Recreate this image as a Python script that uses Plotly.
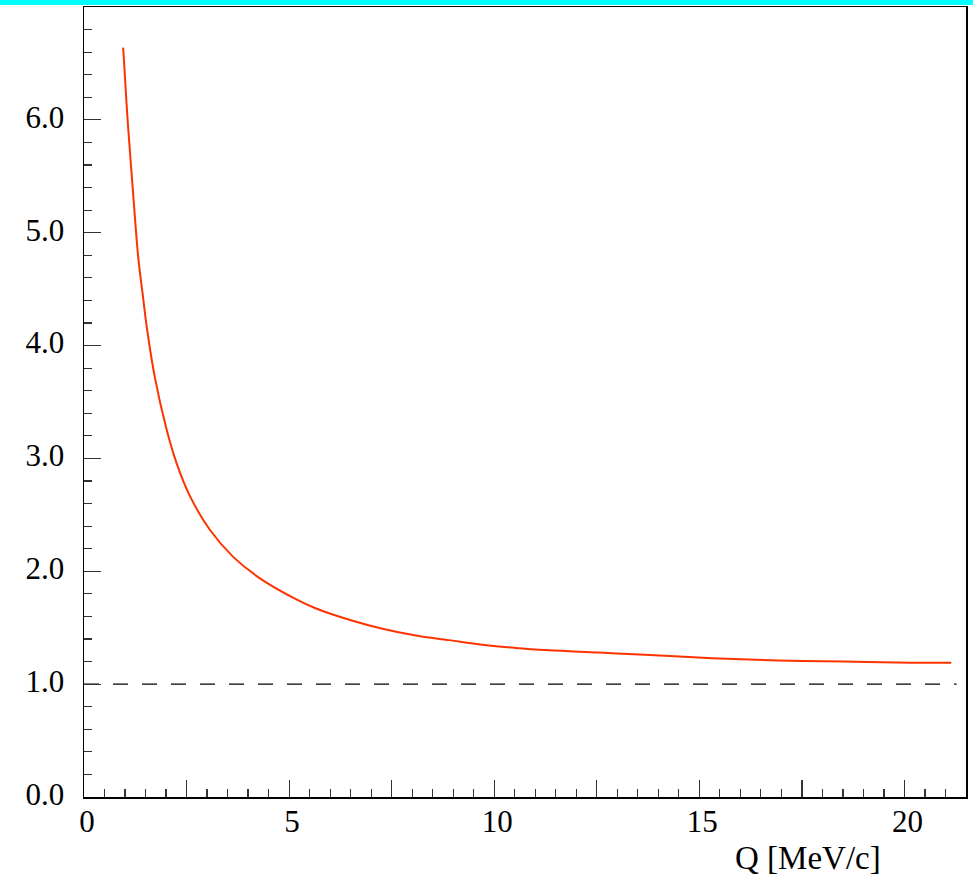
import plotly.graph_objects as go

# Enhancement factor versus momentum Q [MeV/c]
q_values = [0.955, 1.038, 1.077, 1.199, 1.320, 1.442, 1.524, 1.726, 2.011, 2.254,
            2.577, 3.063, 3.630, 4.279, 5.130, 5.658, 6.467, 7.277, 8.089, 8.899,
            9.708, 10.52, 11.33, 12.55, 13.68, 15.30, 16.92, 18.54, 20.16, 21.14]
factor_values = [6.64, 6.14, 5.93, 5.34, 4.79, 4.42, 4.18, 3.72, 3.26, 2.96,
                 2.67, 2.37, 2.13, 1.94, 1.76, 1.67, 1.57, 1.49, 1.43, 1.39,
                 1.35, 1.32, 1.30, 1.28, 1.26, 1.23, 1.21, 1.20, 1.19, 1.19]

# Reference level
ref_q = [0.0, 21.27]
ref_level = [1.0, 1.0]

x_tickvals = [0, 2.5, 5, 7.5, 10, 12.5, 15, 17.5, 20]
x_ticktext = ["0", "", "5", "", "10", "", "15", "", "20"]
y_tickvals = [0, 1, 2, 3, 4, 5, 6]
y_ticktext = ["0.0", "1.0", "2.0", "3.0", "4.0", "5.0", "6.0"]

W, H = 973, 877
L, R, T, B = 84, 5, 7, 80

fig = go.Figure()
fig.add_trace(go.Scatter(x=ref_q, y=ref_level, mode="lines",
                         line=dict(color="black", width=1.2, dash="15px,14px"),
                         showlegend=False, hoverinfo="skip"))
fig.add_trace(go.Scatter(x=q_values, y=factor_values, mode="lines",
                         line=dict(color="#ff3300", width=2, shape="spline", smoothing=1.0),
                         showlegend=False))

font = dict(family="Liberation Serif, Times New Roman, serif", size=31, color="black")

fig.update_layout(
    width=W, height=H,
    margin=dict(l=L, r=R, t=T, b=B),
    paper_bgcolor="white", plot_bgcolor="white",
    font=font,
    xaxis=dict(range=[0, 21.5], tickvals=x_tickvals, ticktext=x_ticktext,
               ticks="inside", ticklen=17, tickwidth=1.2, tickcolor="#333",
               showline=True, linecolor="black", linewidth=1.5, mirror=True,
               showgrid=False, zeroline=False, tickfont=font,
               ticklabelshift=3, ticklabelstandoff=-4,
               minor=dict(ticks="inside", dtick=0.5, tick0=0, ticklen=8,
                          tickwidth=1.2, tickcolor="#333", showgrid=False)),
    yaxis=dict(range=[0, 7.0], tickvals=y_tickvals, ticktext=y_ticktext,
               ticks="inside", ticklen=17, tickwidth=1.2, tickcolor="#333",
               showline=True, linecolor="black", linewidth=1.5, mirror=True,
               showgrid=False, zeroline=False, tickfont=font,
               ticklabelstandoff=12, ticklabelshift=-3,
               minor=dict(ticks="inside", dtick=0.2, tick0=0, ticklen=8,
                          tickwidth=1.2, tickcolor="#333", showgrid=False)),
)

pw = W - L - R
ph = H - T - B

# Cyan band along the top edge of the page
fig.add_shape(type="rect", xref="paper", yref="paper",
              x0=-L / pw - 0.01, x1=1 + R / pw + 0.01,
              y0=1 + (T - 5) / ph, y1=1 + (T + 20) / ph,
              fillcolor="#00ffff", line=dict(width=0), layer="above")

# Axis title, right-aligned under the axis
fig.add_annotation(text="Q [MeV/c]", xref="paper", yref="paper",
                   x=(885 - L) / pw, y=-(858 - (H - B)) / ph,
                   xanchor="right", yanchor="middle", showarrow=False,
                   font=dict(family="Liberation Serif, Times New Roman, serif", size=33, color="black"))

fig.write_html("out.html", config={"displayModeBar": False, "staticPlot": True})
